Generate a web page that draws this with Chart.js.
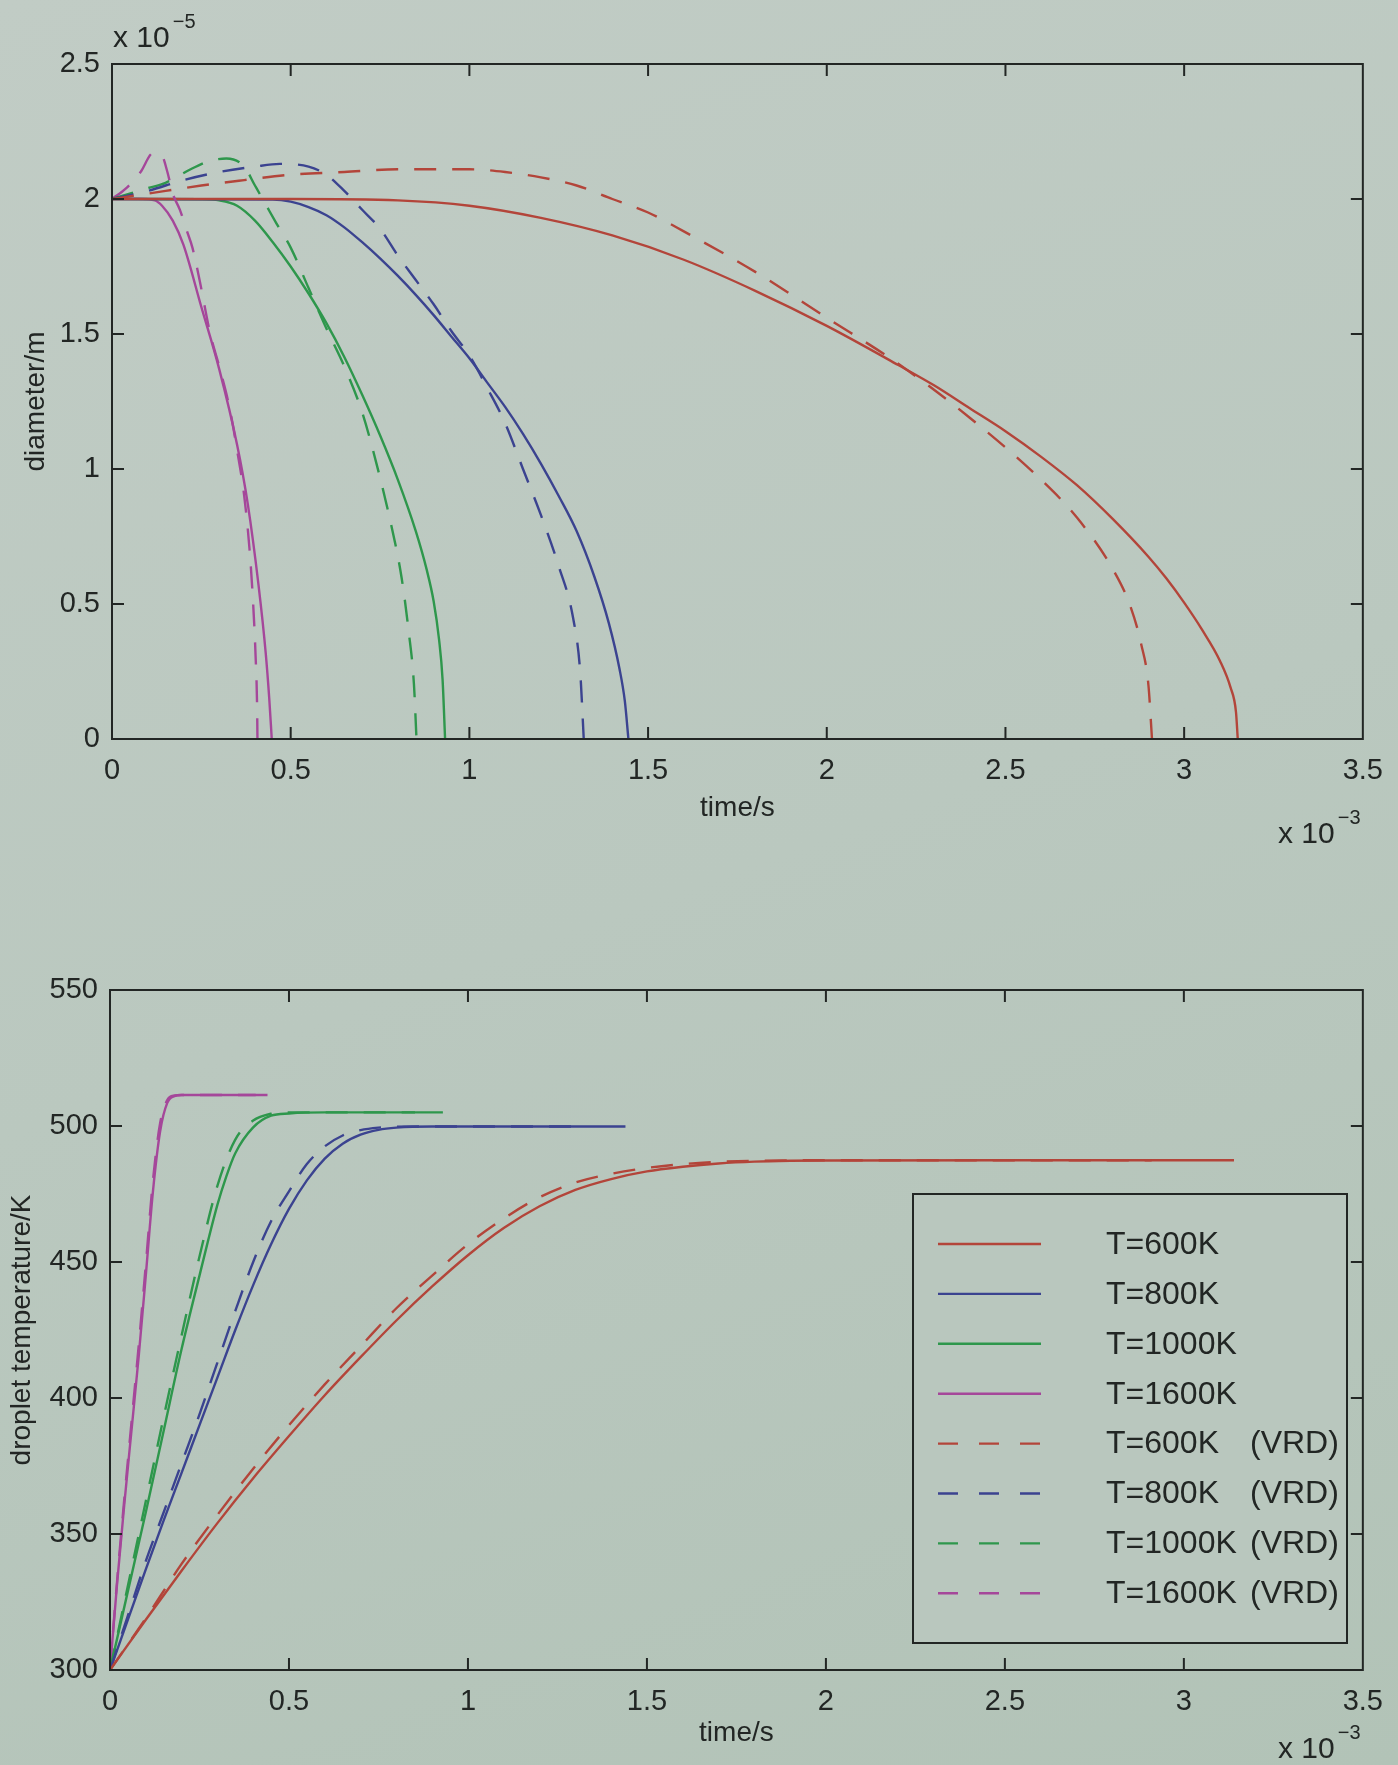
<!DOCTYPE html>
<html>
<head>
<meta charset="utf-8">
<title>Droplet diameter and temperature</title>
<script src="https://cdn.jsdelivr.net/npm/chart.js@4.4.0/dist/chart.umd.min.js"></script>
<style>
  html, body { margin: 0; padding: 0; }
  body {
    width: 1398px; height: 1765px; position: relative; overflow: hidden;
    background: linear-gradient(160deg, #c1ccc5 0%, #bac8bf 50%, #b2c3b7 100%);
  }
  .panel { position: absolute; left: 0; }
  #diameterPanel { top: 0; }
  #tempPanel { top: 880px; }
</style>
</head>
<body>
<div class="panel" id="diameterPanel"><canvas id="diameterChart" width="1398" height="880"></canvas></div>
<div class="panel" id="tempPanel"><canvas id="tempChart" width="1398" height="885"></canvas></div>
<script>
// axis ticks (time in 1e-3 s, diameter in 1e-5 m, temperature in K)
const timeTicks = [0, 0.5, 1, 1.5, 2, 2.5, 3, 3.5];
const diameterTicks = [0, 0.5, 1, 1.5, 2, 2.5];
const tempTicks = [300, 350, 400, 450, 500, 550];

const seriesLabels = ['T=600K', 'T=800K', 'T=1000K', 'T=1600K'];
const seriesColors = ['#b3453a', '#3b4390', '#2e974c', '#a5479a'];

// droplet diameter, [time, diameter]
const diam600 = [[0,2.0],[0.5,2.0],[0.8,1.995],[1.0,1.975],[1.2,1.93],[1.4,1.865],[1.6,1.775],[1.8,1.66],[2.0,1.53],[2.2,1.385],[2.3,1.31],[2.4,1.225],[2.5,1.14],[2.6,1.045],[2.7,0.94],[2.8,0.815],[2.9,0.675],[2.95,0.595],[3.0,0.505],[3.05,0.405],[3.1,0.29],[3.13,0.19],[3.145,0.1],[3.15,0]];
const diam800 = [[0,2.0],[0.45,1.998],[0.5,1.99],[0.55,1.97],[0.6,1.94],[0.65,1.895],[0.7,1.84],[0.75,1.78],[0.8,1.715],[0.85,1.645],[0.9,1.57],[0.95,1.49],[1.0,1.41],[1.05,1.32],[1.1,1.23],[1.15,1.13],[1.2,1.02],[1.25,0.9],[1.3,0.77],[1.35,0.6],[1.39,0.43],[1.42,0.26],[1.435,0.14],[1.445,0]];
const diam1000 = [[0,2.0],[0.25,1.999],[0.3,1.995],[0.35,1.975],[0.4,1.92],[0.45,1.84],[0.5,1.75],[0.55,1.65],[0.6,1.54],[0.65,1.415],[0.7,1.275],[0.75,1.125],[0.8,0.96],[0.85,0.77],[0.88,0.63],[0.9,0.51],[0.915,0.37],[0.925,0.22],[0.932,0]];
const diam1600 = [[0,2.0],[0.08,2.0],[0.12,1.995],[0.14,1.975],[0.17,1.92],[0.2,1.83],[0.25,1.6],[0.3,1.37],[0.35,1.09],[0.38,0.87],[0.41,0.57],[0.43,0.32],[0.44,0.15],[0.447,0]];

const diam600VRD = [[0,2.0],[0.15,2.03],[0.25,2.05],[0.37,2.07],[0.5,2.09],[0.65,2.1],[0.8,2.11],[1.0,2.11],[1.1,2.1],[1.2,2.08],[1.3,2.05],[1.4,2.0],[1.5,1.95],[1.6,1.88],[1.8,1.73],[2.0,1.56],[2.2,1.39],[2.4,1.19],[2.6,0.96],[2.7,0.82],[2.8,0.63],[2.85,0.49],[2.88,0.35],[2.9,0.2],[2.91,0]];
const diam800VRD = [[0,2.0],[0.1,2.03],[0.2,2.07],[0.3,2.1],[0.4,2.12],[0.47,2.13],[0.55,2.12],[0.6,2.09],[0.65,2.03],[0.7,1.96],[0.75,1.89],[0.8,1.79],[0.85,1.7],[0.9,1.61],[0.95,1.51],[1.0,1.42],[1.05,1.3],[1.1,1.17],[1.15,1.0],[1.2,0.83],[1.25,0.64],[1.29,0.45],[1.31,0.25],[1.32,0]];
const diam1000VRD = [[0,2.0],[0.1,2.04],[0.15,2.06],[0.22,2.11],[0.27,2.14],[0.32,2.15],[0.37,2.12],[0.4,2.05],[0.43,1.98],[0.46,1.91],[0.5,1.82],[0.55,1.67],[0.6,1.52],[0.65,1.38],[0.7,1.21],[0.74,1.02],[0.78,0.8],[0.81,0.6],[0.83,0.4],[0.845,0.2],[0.852,0]];
const diam1600VRD = [[0,2.0],[0.04,2.04],[0.08,2.1],[0.115,2.17],[0.14,2.16],[0.155,2.1],[0.17,2.02],[0.19,1.96],[0.21,1.88],[0.225,1.82],[0.245,1.7],[0.275,1.5],[0.3,1.38],[0.33,1.22],[0.35,1.07],[0.37,0.9],[0.385,0.7],[0.395,0.5],[0.402,0.3],[0.406,0.12],[0.407,0]];

// droplet temperature, [time, T]
const temp600 = [[0,300],[0.1,318.5],[0.2,336.5],[0.3,354],[0.4,370.5],[0.5,386],[0.6,401],[0.7,415],[0.8,428.5],[0.9,441],[1.0,452.5],[1.1,462.5],[1.2,470.5],[1.3,476.5],[1.4,480.5],[1.5,483.3],[1.6,485],[1.7,486.2],[1.8,486.9],[1.9,487.2],[2.0,487.3],[2.5,487.4],[3.0,487.4],[3.14,487.4]];
const temp800 = [[0,300],[0.05,318.5],[0.1,337],[0.15,355],[0.2,372.5],[0.25,390],[0.3,407.5],[0.35,425],[0.4,441.5],[0.45,456.5],[0.5,469.5],[0.55,480],[0.6,488],[0.65,493.5],[0.7,496.8],[0.75,498.6],[0.8,499.4],[0.9,499.8],[1.0,499.8],[1.44,499.8]];
const temp1000 = [[0,300],[0.05,329],[0.1,358],[0.15,388],[0.2,418],[0.25,445],[0.3,471],[0.325,481.5],[0.35,490],[0.4,499.5],[0.45,503.8],[0.5,504.6],[0.6,505],[0.93,505]];
const temp1600 = [[0,300],[0.02,332],[0.04,361],[0.06,388],[0.08,415],[0.1,445],[0.12,476],[0.14,498],[0.16,508.5],[0.18,511],[0.2,511.4],[0.44,511.4]];

const temp600VRD = [[0,300],[0.1,319],[0.2,339],[0.3,357],[0.4,374],[0.5,390],[0.6,405],[0.7,419],[0.8,433],[0.9,445],[1.0,456.5],[1.1,466],[1.2,473.8],[1.3,479.2],[1.4,482.4],[1.5,484.6],[1.6,486],[1.7,486.8],[1.8,487.2],[2.0,487.4],[2.5,487.4],[2.91,487.4]];
const temp800VRD = [[0,300],[0.05,320],[0.1,340],[0.15,358],[0.2,376],[0.25,394],[0.3,413],[0.35,432],[0.4,450],[0.45,465],[0.5,476],[0.55,486],[0.6,492.5],[0.65,496.5],[0.7,498.5],[0.75,499.4],[0.8,499.7],[0.9,499.8],[1.32,499.8]];
const temp1000VRD = [[0,300],[0.05,331],[0.1,362],[0.15,393],[0.2,423],[0.25,452],[0.3,478],[0.35,495],[0.4,502],[0.45,504.5],[0.5,505],[0.852,505]];
const temp1600VRD = [[0,300],[0.02,333],[0.04,363],[0.06,391],[0.08,419],[0.1,449],[0.12,480],[0.14,501],[0.16,509.5],[0.18,511.2],[0.2,511.4],[0.407,511.4]];

const ink = '#222624';
const fontFamily = '"Liberation Sans", Arial, Helvetica, sans-serif';
Chart.defaults.font.family = fontFamily;
Chart.defaults.color = ink;
Chart.defaults.animation = false;

function line(label, pts, color, dashed) {
  return {
    label: label,
    data: pts.map(p => ({x: p[0], y: p[1]})),
    borderColor: color,
    borderWidth: 2.4,
    borderDash: dashed ? [22, 16] : [],
    pointRadius: 0,
    fill: false,
    cubicInterpolationMode: 'monotone'
  };
}

function makeDatasets(solid, dashed) {
  var out = [];
  // dashed first so the plain curves end up underneath like the original plot order
  dashed.forEach((pts, i) => out.push(line(seriesLabels[i] + ' (VRD)', pts, seriesColors[i], true)));
  solid.forEach((pts, i) => out.push(line(seriesLabels[i], pts, seriesColors[i], false)));
  return out;
}

// box round the plot plus inward tick marks on all four sides
const frameTicks = {
  id: 'frameTicks',
  afterDatasetsDraw(chart) {
    const {ctx, chartArea: a, scales: {x, y}} = chart;
    const len = 12;
    ctx.save();
    ctx.strokeStyle = ink;
    ctx.lineWidth = 2;
    ctx.beginPath();
    x.ticks.forEach(t => {
      const px = x.getPixelForValue(t.value);
      if (px <= a.left + 1 || px >= a.right - 1) return;
      ctx.moveTo(px, a.bottom); ctx.lineTo(px, a.bottom - len);
      ctx.moveTo(px, a.top); ctx.lineTo(px, a.top + len);
    });
    y.ticks.forEach(t => {
      const py = y.getPixelForValue(t.value);
      if (py <= a.top + 1 || py >= a.bottom - 1) return;
      ctx.moveTo(a.left, py); ctx.lineTo(a.left + len, py);
      ctx.moveTo(a.right, py); ctx.lineTo(a.right - len, py);
    });
    ctx.stroke();
    ctx.strokeRect(a.left, a.top, a.right - a.left, a.bottom - a.top);
    ctx.restore();
  }
};

// "x 10^n" scale factors next to the axes
const axisExponent = {
  id: 'axisExponent',
  afterDraw(chart, args, opts) {
    const ctx = chart.ctx;
    (opts.items || []).forEach(it => {
      ctx.save();
      ctx.fillStyle = ink;
      ctx.textAlign = 'left';
      ctx.textBaseline = 'alphabetic';
      ctx.font = '30px ' + fontFamily;
      ctx.fillText('x 10', it.x, it.y);
      const w = ctx.measureText('x 10').width;
      ctx.font = '20px ' + fontFamily;
      ctx.fillText(it.exp, it.x + w + 3, it.y - 19);
      ctx.restore();
    });
  }
};

// boxed legend inside the temperature plot
const legendBox = {
  id: 'legendBox',
  afterDraw(chart, args, opts) {
    if (!opts.show) return;
    const ctx = chart.ctx;
    const b = opts.box;
    ctx.save();
    ctx.fillStyle = '#b9c7be';
    ctx.fillRect(b.left, b.top, b.width, b.height);
    ctx.strokeStyle = ink;
    ctx.lineWidth = 2;
    ctx.strokeRect(b.left, b.top, b.width, b.height);
    // solid entries first, then VRD ones
    const sets = chart.data.datasets.slice(4).concat(chart.data.datasets.slice(0, 4));
    ctx.font = '32px ' + fontFamily;
    ctx.textBaseline = 'middle';
    ctx.textAlign = 'left';
    sets.forEach((ds, i) => {
      const yy = opts.firstRow + i * opts.rowGap;
      ctx.strokeStyle = ds.borderColor;
      ctx.lineWidth = 2.4;
      ctx.setLineDash(ds.borderDash.length ? [20, 21] : []);
      ctx.beginPath();
      ctx.moveTo(opts.lineStart, yy);
      ctx.lineTo(opts.lineEnd, yy);
      ctx.stroke();
      ctx.setLineDash([]);
      ctx.fillStyle = ink;
      const parts = ds.label.split(' (');
      ctx.fillText(parts[0], opts.textX, yy + 1);
      if (parts.length > 1) ctx.fillText('(' + parts[1], opts.suffixX, yy + 1);
    });
    ctx.restore();
  }
};

function fixedTicks(values) {
  return s => { s.ticks = values.map(v => ({value: v})); };
}

function buildChart(canvasId, datasets, cfg) {
  const ctx = document.getElementById(canvasId).getContext('2d');
  return new Chart(ctx, {
    type: 'line',
    data: {datasets: datasets},
    options: {
      responsive: false,
      maintainAspectRatio: false,
      layout: {padding: cfg.padding},
      plugins: {
        legend: {display: false},
        tooltip: {enabled: false},
        axisExponent: {items: cfg.exponents},
        legendBox: cfg.legend || {show: false}
      },
      scales: {
        x: {
          type: 'linear',
          min: 0,
          max: 3.5,
          afterBuildTicks: fixedTicks(timeTicks),
          afterFit: s => { s.height = cfg.xHeight; },
          grid: {display: false, drawTicks: false},
          border: {display: false},
          ticks: {font: {size: 29}, padding: 15, maxRotation: 0, autoSkip: false, callback: v => String(v)},
          title: {display: true, text: 'time/s', font: {size: 28}, padding: {top: 0, bottom: cfg.xTitlePad}}
        },
        y: {
          type: 'linear',
          min: cfg.yMin,
          max: cfg.yMax,
          afterBuildTicks: fixedTicks(cfg.yTicks),
          afterFit: s => { s.width = cfg.yWidth; },
          grid: {display: false, drawTicks: false},
          border: {display: false},
          ticks: {font: {size: 29}, padding: 12, autoSkip: false, callback: v => String(v)},
          title: {display: true, text: cfg.yTitle, font: {size: 28}, padding: {top: cfg.yTitlePad, bottom: 0}}
        }
      }
    },
    plugins: [frameTicks, axisExponent, legendBox]
  });
}

buildChart('diameterChart',
  makeDatasets([diam600, diam800, diam1000, diam1600], [diam600VRD, diam800VRD, diam1000VRD, diam1600VRD]), {
  padding: {top: 64, right: 32, bottom: 0, left: 0},
  xHeight: 141, yWidth: 112,
  yMin: 0, yMax: 2.5, yTicks: diameterTicks,
  yTitle: 'diameter/m', yTitlePad: 19, xTitlePad: 55,
  exponents: [{x: 113, y: 47, exp: '\u22125'}, {x: 1278, y: 843, exp: '\u22123'}]
});

buildChart('tempChart',
  makeDatasets([temp600, temp800, temp1000, temp1600], [temp600VRD, temp800VRD, temp1000VRD, temp1600VRD]), {
  padding: {top: 110, right: 30, bottom: 0, left: 0},
  xHeight: 95, yWidth: 110,
  yMin: 300, yMax: 550, yTicks: tempTicks,
  yTitle: 'droplet temperature/K', yTitlePad: 5, xTitlePad: 15,
  exponents: [{x: 1278, y: 878, exp: '\u22123'}],
  legend: {
    show: true,
    box: {left: 913, top: 314, width: 434, height: 449},
    firstRow: 364, rowGap: 49.9,
    lineStart: 938, lineEnd: 1041,
    textX: 1106, suffixX: 1250
  }
});
</script>
</body>
</html>
